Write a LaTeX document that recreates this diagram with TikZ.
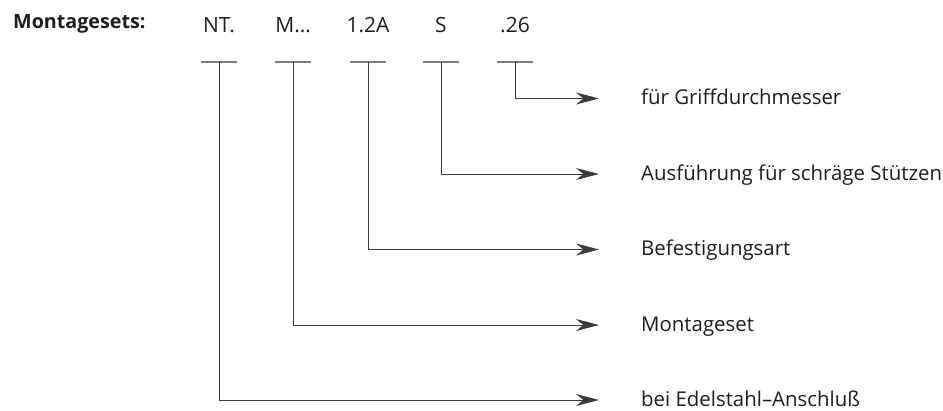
\documentclass[tikz,border=0pt]{standalone}
\usepackage{fontspec}
\setmainfont{Open Sans}
\usetikzlibrary{arrows.meta}
\definecolor{linegray}{RGB}{60,60,60}
\definecolor{bargray}{RGB}{125,125,125}
\definecolor{textblack}{RGB}{30,30,30}
\tikzset{
  code/.style={font=\fontsize{21}{24}\selectfont, text=textblack, anchor=base, inner sep=0pt},
  label/.style={font=\fontsize{20.4}{24}\selectfont, text=textblack, anchor=base west, inner sep=0pt},
  bar/.style={bargray, line width=1.3pt},
  lead/.style={linegray, line width=1pt, -{Stealth[length=23pt, width=12pt]}, shorten >=42pt},
}
\begin{document}
\begin{tikzpicture}[x=1pt, y=-1pt]
  \useasboundingbox (0,0) rectangle (943,410);

  % Kopfzeile
  \node[font=\fontsize{19.7}{24}\selectfont\bfseries, text=textblack, anchor=base west, inner sep=0pt] (title) at (13,28.5) {Montagesets:};

  % Kennzeichen, Querstriche und Pfeile zu den Erklaerungen
  \foreach \i/\x/\txt/\y/\desc in {
      1/219/NT./400/bei Edelstahl–Anschluß,
      2/293/M…/325/Montageset,
      3/368/1.2A/249.5/Befestigungsart,
      4/441/S/174/Ausführung für schräge Stützen,
      5/515/.26/98.5/für Griffdurchmesser} {
    \node[code] (c\i) at (\x,32) {\txt};
    \coordinate (b\i) at (\x,62);
    \draw[bar] ([xshift=-18pt]b\i) -- ([xshift=18pt]b\i);
    \node[label] (l\i) at (641,\y+6) {\desc};
    \draw[lead] (b\i) |- ([yshift=6pt]l\i.base west);
  }
\end{tikzpicture}
\end{document}
